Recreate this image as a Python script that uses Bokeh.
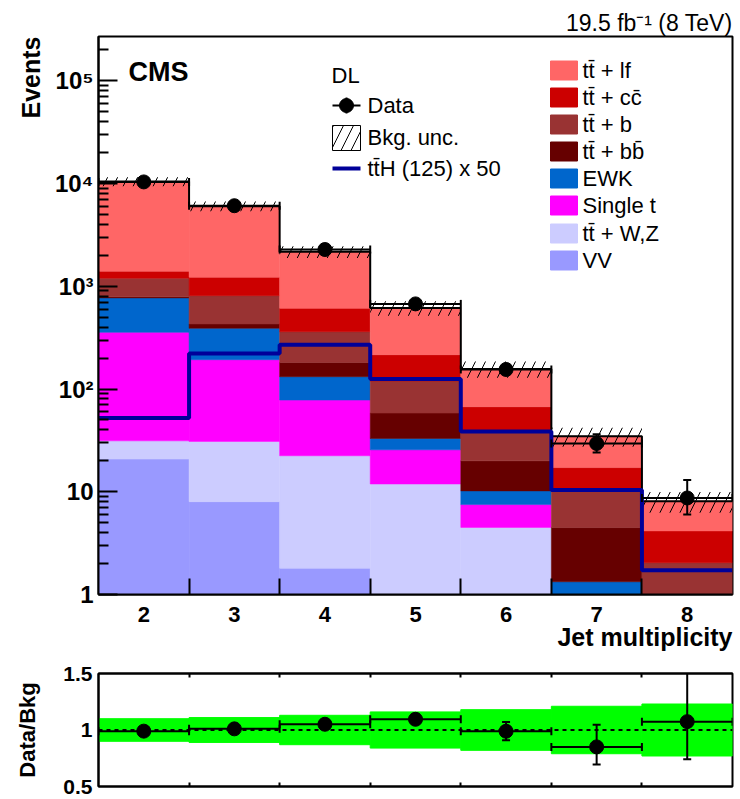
import numpy as np
from bokeh.plotting import figure
from bokeh.layouts import column
from bokeh.models import Range1d, FixedTicker, Label, LinearAxis, Title
from bokeh.embed import file_html
from bokeh.resources import INLINE

# ---- data: jet multiplicity bins, dilepton channel ----
jets = [2, 3, 4, 5, 6, 7, 8]
jet_labels = ["2", "3", "4", "5", "6", "7", "8"]

# stacked backgrounds (events per bin), bottom of stack first
vv = [20.8, 8.0, 1.8, 0.7, 0.3, 0.1, 0.02]
ttv = [10.5, 22.9, 20.6, 11.2, 4.2, 0.5, 0.2]
single_t = [325, 162, 55.7, 13.7, 3.0, 0.3, 0.1]
ewk = [415, 197, 53.7, 7.4, 2.7, 0.43, 0.15]
tt_bb = [18, 40, 49.8, 25.3, 9.8, 3.15, 0.45]
tt_b = [408, 381, 180, 61.4, 19.2, 5.8, 1.12]
tt_cc = [203, 413, 248, 96, 28, 6.9, 2.12]
tt_lf = [9080, 4800, 1560, 400, 89.5, 17.5, 3.94]

bkg_rel_unc = [0.10, 0.11, 0.13, 0.16, 0.18, 0.21, 0.23]

data = [10375, 6085, 2280, 674, 155, 29.5, 8.7]
data_err_lo = [102, 78, 48, 26, 12.4, 5.4, 2.7]
data_err_hi = [102, 78, 48, 26, 12.9, 6.8, 4.3]

tth_x50 = [52.2, 222, 270, 125, 38.6, 10.4, 1.72]

y_tick_labels = {1: "1", 10: "10", 100: "10\u00b2", 1000: "10\u00b3",
                 10000: "10\u2074", 100000: "10\u2075"}
ratio_tick_labels = {0.5: "0.5", 1.0: "1", 1.5: "1.5"}

components = [
    ("VV", vv, "#9999ff"),
    ("tt\u0304 + W,Z", ttv, "#ccccff"),
    ("Single t", single_t, "#ff00ff"),
    ("EWK", ewk, "#0066cc"),
    ("tt\u0304 + bb\u0304", tt_bb, "#660000"),
    ("tt\u0304 + b", tt_b, "#993333"),
    ("tt\u0304 + cc\u0304", tt_cc, "#cc0000"),
    ("tt\u0304 + lf", tt_lf, "#ff6666"),
]

FONT = "Liberation Sans"

# ---- layout constants (page pixels) ----
W = 740
MAIN_H, RATIO_H = 660, 139
FL, FR = 98, 732                 # frame left/right
MT, MB = 36, 594                 # main frame top/bottom
RT, RB = 673, 786                # ratio frame top/bottom (page)
X0, X1 = 1.5, 8.5
YMAX = 2.7e5
LOGTOP = np.log10(YMAX)


def mx(px):
    return X0 + (px - FL) * (X1 - X0) / (FR - FL)


def my(py):
    return 10 ** (LOGTOP * (MB - py) / (MB - MT))


def add_text(fig, x, y, text, size, bold=False, align="left", baseline="middle"):
    fig.add_layout(Label(x=x, y=y, text=text, text_font=FONT, text_font_size=f"{size}px",
                         text_font_style="bold" if bold else "normal", text_align=align,
                         text_baseline=baseline, text_color="black"))


def hide_labels(axis):
    axis.major_label_text_font_size = "1px"
    axis.major_label_text_color = None
    axis.major_label_standoff = 0


def style_labels(axis, size, standoff):
    axis.major_label_text_font = FONT
    axis.major_label_text_font_size = f"{size}px"
    axis.major_label_text_font_style = "bold"
    axis.major_label_text_color = "black"
    axis.major_label_standoff = standoff


x = np.array(jets, dtype=float)
left, right = x - 0.5, x + 0.5
edge_ticks = list(right[:-1])

# ================= main panel =================
p = figure(width=W, height=MAIN_H, y_axis_type="log",
           x_range=Range1d(X0, X1), y_range=Range1d(1, YMAX),
           output_backend="svg", toolbar_location=None,
           min_border_left=FL, min_border_right=W - FR,
           min_border_top=MT, min_border_bottom=MAIN_H - MB)
p.title.text = "19.5 fb\u207b\u00b9 (8 TeV)"
p.title.align = "right"
p.title.text_font = FONT
p.title.text_font_size = "23px"
p.title.text_font_style = "normal"
p.title.text_color = "black"
p.title.standoff = 2
p.grid.visible = False
p.outline_line_color = "black"
p.outline_line_width = 2
p.background_fill_color = "white"
p.border_fill_color = "white"

# stacked histogram
floor = 1e-3
cum = np.zeros(len(jets))
for name, vals, col in components:
    vals = np.array(vals, dtype=float)
    bottom = np.maximum(cum, floor)
    top = cum + vals
    p.quad(left=left, right=right, bottom=bottom, top=top, fill_color=col, line_color=col, line_width=0.5)
    cum = top
total = cum

# background uncertainty band (hatched)
unc = np.array(bkg_rel_unc)
p.quad(left=left, right=right, bottom=total * (1 - unc), top=total * (1 + unc),
       fill_alpha=0, line_color=None, hatch_pattern="/", hatch_color="black",
       hatch_scale=20, hatch_weight=1)

# total outline
edges = np.append(left, right[-1])
p.step(x=edges, y=np.append(total, total[-1]), mode="after", line_color="black", line_width=2)

# ttH x 50 overlay
p.step(x=edges, y=np.append(tth_x50, tth_x50[-1]), mode="after", line_color="#000099", line_width=4)

# data points with errors
d = np.array(data, dtype=float)
dlo = d - np.array(data_err_lo)
dhi = d + np.array(data_err_hi)
p.segment(x0=left, x1=right, y0=d, y1=d, line_color="black", line_width=2)
p.segment(x0=x, x1=x, y0=dlo, y1=dhi, line_color="black", line_width=2)
p.scatter(x=np.concatenate([left, right]), y=np.concatenate([d, d]), marker="dash",
          angle=np.pi / 2, size=8, line_color="black", line_width=2)
p.scatter(x=np.concatenate([x, x]), y=np.concatenate([dlo, dhi]), marker="dash",
          size=8, line_color="black", line_width=2)
p.scatter(x=x, y=d, size=14, color="black")

# y axis: decades with log minor ticks
p.yaxis.ticker = FixedTicker(ticks=list(y_tick_labels.keys()),
                             minor_ticks=[m * 10 ** k for k in range(0, 6) for m in range(2, 10)])
p.yaxis.major_label_overrides = y_tick_labels
p.yaxis.major_tick_in = 19
p.yaxis.major_tick_out = 0
p.yaxis.minor_tick_in = 10
p.yaxis.minor_tick_out = 0
style_labels(p.yaxis[0], 24, 5)
p.yaxis.axis_line_width = 2
p.yaxis.major_tick_line_width = 2
p.yaxis.minor_tick_line_width = 2
p.add_layout(Title(text="Events", align="right", text_font=FONT, text_font_size="25px",
                   text_font_style="bold", text_color="black", standoff=14), "left")

# x axis: ticks on bin edges, labels on bin centres
p.xaxis.ticker = FixedTicker(ticks=edge_ticks)
p.xaxis.major_tick_in = 16
p.xaxis.major_tick_out = 0
p.xaxis.minor_tick_line_color = None
hide_labels(p.xaxis[0])
p.xaxis.axis_line_width = 2
p.xaxis.major_tick_line_width = 2
label_axis = LinearAxis(ticker=FixedTicker(ticks=jets),
                        major_label_overrides={j: s for j, s in zip(jets, jet_labels)},
                        major_tick_in=0, major_tick_out=0, minor_tick_line_color=None,
                        axis_line_color=None)
style_labels(label_axis, 22, 12)
p.add_layout(label_axis, "below")
p.add_layout(Title(text="Jet multiplicity", align="right", text_font=FONT, text_font_size="25px",
                   text_font_style="bold", text_color="black", standoff=-7), "below")

# legend: data / uncertainty / signal
add_text(p, mx(128), my(71), "CMS", 27, bold=True)
add_text(p, mx(331), my(75), "DL", 22)
p.segment(x0=[mx(332)], x1=[mx(360)], y0=[my(105)], y1=[my(105)], line_color="black", line_width=2)
p.segment(x0=[mx(346)], x1=[mx(346)], y0=[my(97)], y1=[my(113)], line_color="black", line_width=2)
p.scatter(x=[mx(346)], y=[my(105)], size=14, color="black")
add_text(p, mx(367), my(105), "Data", 22)
p.quad(left=[mx(332)], right=[mx(360)], top=[my(125)], bottom=[my(150)],
       fill_alpha=0, line_color="black", line_width=1, hatch_pattern="/",
       hatch_color="black", hatch_scale=20, hatch_weight=1)
add_text(p, mx(367), my(137), "Bkg. unc.", 22)
p.segment(x0=[mx(332)], x1=[mx(360)], y0=[my(168)], y1=[my(168)], line_color="#000099", line_width=4)
add_text(p, mx(367), my(168), "tt\u0304H (125) x 50", 22)

# legend: background components, top to bottom
row_y = [70, 97, 124, 151, 178, 205, 233, 260]
for (name, vals, col), py in zip(components[::-1], row_y):
    p.quad(left=[mx(550)], right=[mx(577)], top=[my(py - 9.5)], bottom=[my(py + 9.5)],
           fill_color=col, line_color=col)
    add_text(p, mx(582), my(py), name, 22)

# ================= ratio panel =================
r = figure(width=W, height=RATIO_H,
           x_range=Range1d(X0, X1), y_range=Range1d(0.5, 1.5),
           output_backend="svg", toolbar_location=None,
           min_border_left=FL, min_border_right=W - FR,
           min_border_top=RT - MAIN_H, min_border_bottom=MAIN_H + RATIO_H - RB)
r.title.visible = False
r.grid.visible = False
r.outline_line_color = "black"
r.outline_line_width = 2

ratio = d / total
rlo = dlo / total
rhi = dhi / total
r.quad(left=left, right=right, bottom=1 - unc, top=1 + unc, fill_color="#00ff00", line_color="#00ff00")
r.line(x=[X0, X1], y=[1, 1], line_color="black", line_width=2, line_dash="4 4")
r.segment(x0=left, x1=right, y0=ratio, y1=ratio, line_color="black", line_width=2)
r.segment(x0=x, x1=x, y0=rlo, y1=rhi, line_color="black", line_width=2)
r.scatter(x=np.concatenate([left, right]), y=np.concatenate([ratio, ratio]), marker="dash",
          angle=np.pi / 2, size=8, line_color="black", line_width=2)
r.scatter(x=np.concatenate([x, x]), y=np.concatenate([rlo, rhi]), marker="dash",
          size=8, line_color="black", line_width=2)
r.scatter(x=x, y=ratio, size=14, color="black")

r.xaxis.ticker = FixedTicker(ticks=edge_ticks)
r.xaxis.major_tick_in = 4
r.xaxis.major_tick_out = 0
r.xaxis.minor_tick_line_color = None
hide_labels(r.xaxis[0])
r.xaxis.axis_line_width = 2
r.xaxis.major_tick_line_width = 2
top_axis = LinearAxis(ticker=FixedTicker(ticks=edge_ticks), major_tick_in=4, major_tick_out=0,
                      minor_tick_line_color=None, axis_line_width=2, major_tick_line_width=2)
hide_labels(top_axis)
r.add_layout(top_axis, "above")
r.yaxis.ticker = FixedTicker(ticks=list(ratio_tick_labels.keys()))
r.yaxis.major_label_overrides = ratio_tick_labels
r.yaxis.major_tick_in = 0
r.yaxis.major_tick_out = 0
r.yaxis.minor_tick_line_color = None
style_labels(r.yaxis[0], 21, 6)
r.yaxis.axis_line_width = 2
r.yaxis.axis_label = "Data/Bkg"
r.yaxis.axis_label_text_font = FONT
r.yaxis.axis_label_text_font_size = "22px"
r.yaxis.axis_label_text_font_style = "bold"
r.yaxis.axis_label_text_color = "black"
r.yaxis.axis_label_standoff = 20

layout = column(p, r, spacing=0)
open("out.html", "w").write(file_html(layout, INLINE))
